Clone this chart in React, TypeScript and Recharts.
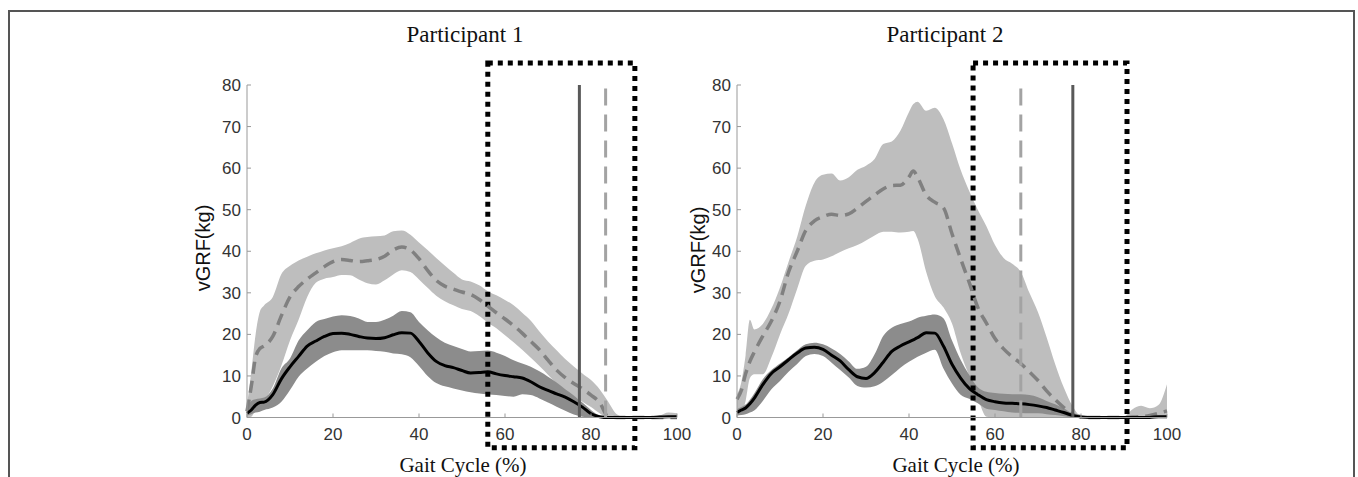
import React from 'react';
import { ComposedChart, Area, Line, XAxis, YAxis, ReferenceLine, ReferenceArea } from 'recharts';

// gait cycle (%) sample points, values in kg
const p1X = [0, 1, 2, 3, 4, 6, 8, 10, 12, 14, 16, 18, 20, 22, 24, 26, 28, 30, 32, 34, 36, 38, 40, 42, 44, 46, 48, 50, 52, 54, 56, 58, 60, 62, 64, 66, 68, 70, 72, 74, 76, 78, 80, 82, 84, 86, 88, 90, 92, 94, 96, 98, 100];
const p1Mean = [1, 1.8, 3, 3.6, 3.7, 5.5, 9.3, 12.2, 14.7, 17.2, 18.4, 19.5, 20.2, 20.3, 20, 19.5, 19.1, 19, 19.2, 19.9, 20.4, 20.3, 18.3, 15.6, 13.5, 12.5, 12, 11.3, 10.7, 10.8, 11, 10.5, 10.1, 9.8, 9.5, 8.6, 7.4, 6.5, 5.7, 4.9, 3.8, 2.5, 0.9, 0.2, 0, 0, 0, 0, 0, 0, 0.1, 0.2, 0.2];
const p1DarkHi = [1.8, 4, 4.4, 4.6, 4.8, 7, 11.8, 14.2, 18.5, 21, 23, 23.7, 24.3, 24.6, 24.4, 23.8, 23, 23, 23.5, 24.5, 25.6, 25.3, 23, 21, 19.3, 18, 17.2, 16.5, 15.9, 16, 16.1, 15.6, 14.8, 13.8, 13, 12.2, 11.1, 9.8, 8.4, 6.8, 5.3, 3.6, 1.8, 0.4, 0, 0, 0, 0, 0, 0, 0, 0, 0];
const p1DarkLo = [0.5, 0.8, 1.2, 1.4, 1.8, 2.4, 3.8, 6.6, 9.8, 11.8, 13.4, 14.8, 15.7, 16.2, 16.2, 16.2, 16.2, 16, 15.8, 15.4, 15.2, 14.5, 12.4, 10, 8.3, 7.5, 7, 6.5, 6.1, 5.8, 5.6, 5.4, 5.2, 5, 5.6, 5.4, 4.6, 3.6, 2.6, 1.6, 0.7, 0.2, 0, 0, 0, 0, 0, 0, 0, 0, 0, 0, 0];
const p1Dash = [1.5, 7.5, 14.5, 16.6, 17.2, 19.5, 24.5, 29, 31.5, 33.3, 34.8, 36.3, 37.5, 38, 37.8, 37.5, 37.7, 38, 38.8, 40.3, 41, 40.3, 38.2, 35.4, 33, 31.6, 30.9, 30.2, 29.6, 28.4, 26.8, 25.2, 23.7, 22.1, 20.3, 18.3, 16.3, 13.8, 11.4, 9.6, 8.2, 6.9, 5.4, 3.6, 0.2, 0, 0, 0, 0, 0, 0, 0, 0];
const p1LightHi = [3, 11, 20, 25.5, 27, 29, 34.5, 36.5, 37.8, 38.7, 39.5, 40.2, 40.7, 41.2, 42, 43, 43.4, 43.6, 43.8, 44.8, 45, 44, 42.1, 40.3, 38.4, 36.6, 34.8, 33.2, 32.7, 31.8, 30.4, 29.4, 28.3, 27, 25.2, 23.3, 20.7, 18.3, 16.2, 14.1, 12.3, 10.6, 9, 6.8, 3.8, 0.8, 0.1, 0.1, 0.1, 0.2, 0.5, 1.2, 1];
const p1LightLo = [0, 0.2, 1.8, 2.8, 4, 7.5, 12.5, 18.5, 23.5, 29, 32.4, 33.4, 33.8, 34.3, 34.2, 33.2, 32.3, 32, 33, 34.4, 35.4, 35, 33.2, 31.2, 29.3, 28, 27, 26.1, 25.6, 24.4, 22.8, 21.5, 19.8, 18.1, 16.3, 14.4, 12.4, 10.3, 8.2, 6.5, 5.1, 3.8, 2.5, 1, 0, 0, 0, 0, 0, 0, 0, 0, 0];

const p2X = [0, 1, 2, 3, 4, 6, 8, 10, 12, 14, 16, 18, 20, 22, 24, 26, 28, 30, 32, 34, 36, 38, 40, 41, 42, 44, 46, 48, 50, 52, 54, 56, 58, 60, 62, 64, 66, 68, 70, 72, 74, 76, 78, 80, 82, 84, 86, 88, 90, 92, 94, 96, 98, 100];
const p2Mean = [1.2, 1.8, 2.3, 3.3, 4.6, 7.9, 10.6, 12.2, 13.9, 15.5, 16.7, 16.9, 16.4, 15, 13.6, 11.5, 9.8, 9.4, 10.8, 13.3, 15.9, 17.2, 18.2, 18.7, 19.2, 20.4, 20.3, 17.2, 12.8, 9.5, 7, 5.5, 4.3, 3.8, 3.5, 3.4, 3.3, 3.1, 2.8, 2.4, 1.8, 1.2, 0.5, 0.1, 0, 0, 0, 0, 0, 0, 0, 0, 0.2, 0.2];
const p2DarkHi = [2, 2.5, 3.1, 4.3, 5.8, 9.2, 11.4, 13, 14.5, 16.2, 17.6, 18, 17.6, 16.6, 15.3, 13.5, 11.7, 12.2, 15.2, 19.6, 21.6, 22.5, 23.1, 23.5, 24, 24.5, 24.8, 23.9, 18.5, 13.9, 10.3, 7.3, 6.2, 5.9, 5.7, 5.6, 5.6, 5.4, 4.9, 4, 3.2, 2.2, 0.9, 0.4, 0.3, 0.3, 0.3, 0.3, 0.3, 0.3, 0.3, 0.3, 0.4, 0.5];
const p2DarkLo = [0.5, 0.6, 0.8, 1.2, 1.7, 4, 6.8, 8.8, 11, 12.9, 14.8, 15.3, 14.8, 13.2, 11.4, 9.6, 7.6, 7.2, 7.5, 8.6, 10.2, 12, 13.4, 14, 14.6, 15.6, 16.3, 11.8, 8.2, 5.5, 4.5, 3.4, 2.1, 1.8, 1.5, 1.2, 1.1, 1, 1, 0.8, 0.6, 0.3, 0, 0, 0, 0, 0, 0, 0, 0, 0, 0, 0, 0];
const p2Dash = [4.4, 6.5, 10.5, 13.5, 15.7, 19.6, 23.2, 28, 35, 40, 45, 47.3, 48.3, 48.9, 48.6, 49, 50.4, 52, 53.5, 55, 55.8, 55.9, 57.9, 59.3, 57.8, 53.5, 51.8, 50.5, 44.2, 38.2, 32.5, 26.5, 22.7, 19, 16.5, 14.6, 13, 11, 8.9, 6.4, 4.3, 2.4, 0.8, 0.2, 0, 0, 0, 0, 0, 0.1, 0.2, 0.5, 1, 1.6];
const p2LightHi = [5.6, 8.5, 15, 23.5, 21.2, 22.5, 26.2, 31.3, 37.5, 43.5, 51, 56.5, 58.4, 58.7, 57, 57.8, 59.6, 60.6, 62.2, 65.8, 66.4, 69, 73.5, 75.4, 76, 73.8, 74.5, 71.8, 66, 59.6, 54.5, 50, 46, 41.5, 38.4, 37, 35, 30, 25.3, 19.3, 12.8, 7.2, 2.8, 0.4, 0.3, 0.3, 0.3, 0.3, 0.3, 2, 2.8, 2.2, 3, 8];
const p2LightLo = [0.5, 0.8, 4, 9.5, 10.4, 10.4, 14.5, 20, 25, 31, 36.5, 37.7, 38, 38.8, 39.8, 40.7, 41.5, 42.6, 43.8, 44.7, 44.7, 44.5, 44.7, 44.9, 43, 35, 29.2, 26.5, 22.6, 15.5, 10, 4.7, 0.2, 0, 0, 0, 0, 0, 0, 0, 0, 0, 0, 0, 0, 0, 0, 0, 0, 0, 0, 0, 0, 0];

const xTicks = [0, 20, 40, 60, 80, 100];
const yTicks = [0, 10, 20, 30, 40, 50, 60, 70, 80];

// event markers (% gait cycle) and highlighted window
const p1Solid = 77.3;
const p1Dashed = 83.4;
const p1Box = [56, 90.2];
const p2Solid = 78.1;
const p2Dashed = 66;
const p2Box = [54.9, 90.7];

const SANS = '"Liberation Sans", Arial, sans-serif';
const SERIF = '"Liberation Serif", "Times New Roman", serif';

const build = (xs: number[], mean: number[], dLo: number[], dHi: number[], dash: number[], lLo: number[], lHi: number[]) =>
  xs.map((x, i) => ({
    x,
    mean: mean[i],
    dash: dash[i],
    dark: [dLo[i], dHi[i]],
    light: [lLo[i], lHi[i]],
  }));

const YTick = (props: any) => {
  const { x, y, payload } = props;
  return (
    <g>
      <line x1={x + 6} x2={x + 10} y1={y} y2={y} stroke="#999" />
      <text x={x} y={y} dy={6} textAnchor="end" fontSize={17} fill="#333" fontFamily={SANS}>{payload.value}</text>
    </g>
  );
};

const XTick = (props: any) => {
  const { x, y, payload } = props;
  return (
    <g>
      <line x1={x} x2={x} y1={y} y2={y - 4} stroke="#999" />
      <text x={x} y={y + 22} textAnchor="middle" fontSize={17} fill="#333" fontFamily={SANS}>{payload.value}</text>
    </g>
  );
};

interface PanelProps {
  left: number;
  width: number;
  marginRight: number;
  data: any[];
  solid: number;
  dashed: number;
  box: number[];
}

const Panel = ({ left, width, marginRight, data, solid, dashed, box }: PanelProps) => (
  <div style={{ position: 'absolute', left, top: 0 }}>
    <ComposedChart width={width} height={477} data={data} margin={{ top: 85, right: marginRight, bottom: 29.5, left: 0 }}>
      <XAxis dataKey="x" type="number" domain={[0, 100]} ticks={xTicks} interval={0} height={30}
        tickSize={0} tickMargin={0} tick={<XTick />} axisLine={{ stroke: '#999' }} />
      <YAxis type="number" domain={[0, 80]} ticks={yTicks} interval={0} width={67}
        tickSize={0} tickMargin={6} tick={<YTick />} axisLine={{ stroke: '#999' }} />
      <Area dataKey="light" type="monotone" stroke="none" fill="#bebebe" fillOpacity={1} isAnimationActive={false} />
      <Area dataKey="dark" type="monotone" stroke="none" fill="#8c8c8c" fillOpacity={1} isAnimationActive={false} />
      <Line dataKey="dash" type="monotone" stroke="#808080" strokeWidth={3.5} strokeDasharray="12 7" dot={false} isAnimationActive={false} />
      <Line dataKey="mean" type="monotone" stroke="#000" strokeWidth={3} dot={false} isAnimationActive={false} />
      <ReferenceLine x={solid} stroke="#595959" strokeWidth={3} />
      <ReferenceLine x={dashed} stroke="#a3a3a3" strokeWidth={3} strokeDasharray="17 9" />
      <ReferenceArea x1={box[0]} x2={box[1]} y1={-7.3} y2={85.3} ifOverflow="visible"
        fill="none" stroke="#000" strokeWidth={5} strokeDasharray="5 5" />
    </ComposedChart>
  </div>
);

const Text = ({ cx, cy, w, size, font, children, rotate }: any) => (
  <div style={{
    position: 'absolute', left: cx - w / 2, top: cy - 13, width: w, height: 26, lineHeight: '26px',
    textAlign: 'center', fontSize: size, fontFamily: font, color: '#111', whiteSpace: 'nowrap',
    transform: rotate ? 'rotate(-90deg)' : undefined,
  }}>{children}</div>
);

export default function App() {
  const d1 = build(p1X, p1Mean, p1DarkLo, p1DarkHi, p1Dash, p1LightLo, p1LightHi);
  const d2 = build(p2X, p2Mean, p2DarkLo, p2DarkHi, p2Dash, p2LightLo, p2LightHi);
  return (
    <div style={{ position: 'absolute', left: 0, top: 0, width: 1358, height: 477, overflow: 'hidden', background: '#fff' }}>
      <div style={{ position: 'absolute', left: 8, top: 10, width: 1347, height: 500, border: '2px solid #555', boxSizing: 'border-box' }} />
      <Panel left={180} width={525} marginRight={28} data={d1} solid={p1Solid} dashed={p1Dashed} box={p1Box} />
      <Panel left={670} width={530} marginRight={33} data={d2} solid={p2Solid} dashed={p2Dashed} box={p2Box} />
      <Text cx={465} cy={35} w={220} size={23} font={SERIF}>Participant 1</Text>
      <Text cx={945} cy={35} w={220} size={23} font={SERIF}>Participant 2</Text>
      <Text cx={463} cy={465} w={220} size={21} font={SERIF}>Gait Cycle (%)</Text>
      <Text cx={956} cy={465} w={220} size={21} font={SERIF}>Gait Cycle (%)</Text>
      <Text cx={203} cy={248} w={140} size={20} font={SANS} rotate>vGRF(kg)</Text>
      <Text cx={698} cy={250} w={140} size={20} font={SANS} rotate>vGRF(kg)</Text>
    </div>
  );
}
